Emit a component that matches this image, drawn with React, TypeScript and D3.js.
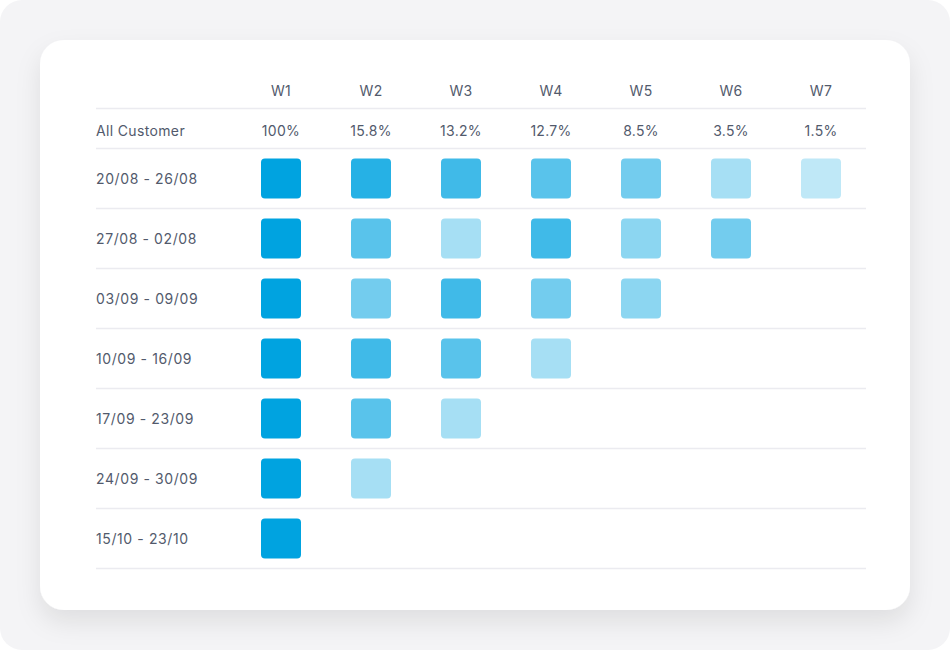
import React from "react";
import * as d3 from "d3";

const weeks = ["W1", "W2", "W3", "W4", "W5", "W6", "W7"];
const allCustomer = ["100%", "15.8%", "13.2%", "12.7%", "8.5%", "3.5%", "1.5%"];
const cohorts = [
  "20/08 - 26/08",
  "27/08 - 02/08",
  "03/09 - 09/09",
  "10/09 - 16/09",
  "17/09 - 23/09",
  "24/09 - 30/09",
  "15/10 - 23/10",
];
const row1 = [1, 0.85, 0.75, 0.65, 0.55, 0.35, 0.25];
const row2 = [1, 0.65, 0.35, 0.75, 0.45, 0.55];
const row3 = [1, 0.55, 0.75, 0.55, 0.45];
const row4 = [1, 0.75, 0.65, 0.35];
const row5 = [1, 0.65, 0.35];
const row6 = [1, 0.35];
const row7 = [1];
const intensities = [row1, row2, row3, row4, row5, row6, row7];

const W = 950;
const H = 670;
const textColor = "#525a6c";
const lineColor = "#ebebf0";
const font = "Inter, 'Noto Sans', sans-serif";

export default function App() {
  const x = d3.scaleBand<string>().domain(weeks).range([236, 866]);
  const y = d3.scaleBand<string>().domain(cohorts).range([149, 569]);
  const color = d3.interpolateRgb("#ffffff", "#00a3e0");
  const sq = 40;
  const lineYs = [108.5, 148.5, ...cohorts.map((c) => (y(c) as number) + y.bandwidth() - 0.5)];

  return (
    <div style={{ position: "absolute", left: 0, top: 0 }}>
      <svg width={W} height={H} style={{ display: "block" }}>
        <defs>
          <filter id="shadow" x="-10%" y="-10%" width="120%" height="130%">
            <feDropShadow dx="0" dy="12" stdDeviation="12" floodColor="#000" floodOpacity="0.09" />
          </filter>
        </defs>
        <rect x={0} y={0} width={W} height={H} fill="#ffffff" />
        <rect x={0} y={0} width={950} height={650} rx={22} fill="#f4f4f6" />
        <rect x={40} y={40} width={870} height={570} rx={24} fill="#ffffff" filter="url(#shadow)" />

        {lineYs.map((ly, i) => (
          <line key={i} x1={96} x2={866} y1={ly} y2={ly} stroke={lineColor} strokeWidth={1.5} />
        ))}

        {weeks.map((w) => (
          <text
            key={w}
            x={(x(w) as number) + x.bandwidth() / 2}
            y={90}
            textAnchor="middle"
            dominantBaseline="central"
            fontFamily={font}
            fontSize={14}
            letterSpacing={0.3}
            fill={textColor}
          >
            {w}
          </text>
        ))}

        <text x={96} y={130} dominantBaseline="central" fontFamily={font} fontSize={14} letterSpacing={0.35} fill={textColor}>
          All Customer
        </text>
        {allCustomer.map((v, i) => (
          <text
            key={i}
            x={(x(weeks[i]) as number) + x.bandwidth() / 2}
            y={130}
            textAnchor="middle"
            dominantBaseline="central"
            fontFamily={font}
            fontSize={14}
            letterSpacing={0.3}
            fill={textColor}
          >
            {v}
          </text>
        ))}

        {cohorts.map((c, r) => {
          const cy = (y(c) as number) + y.bandwidth() / 2 - 0.5;
          return (
            <g key={c}>
              <text x={96} y={cy} dominantBaseline="central" fontFamily={font} fontSize={14} letterSpacing={0.6} fill={textColor}>
                {c}
              </text>
              {intensities[r].map((v, i) => (
                <rect
                  key={i}
                  x={(x(weeks[i]) as number) + x.bandwidth() / 2 - sq / 2}
                  y={cy - sq / 2}
                  width={sq}
                  height={sq}
                  rx={4}
                  fill={color(v)}
                />
              ))}
            </g>
          );
        })}
      </svg>
    </div>
  );
}
